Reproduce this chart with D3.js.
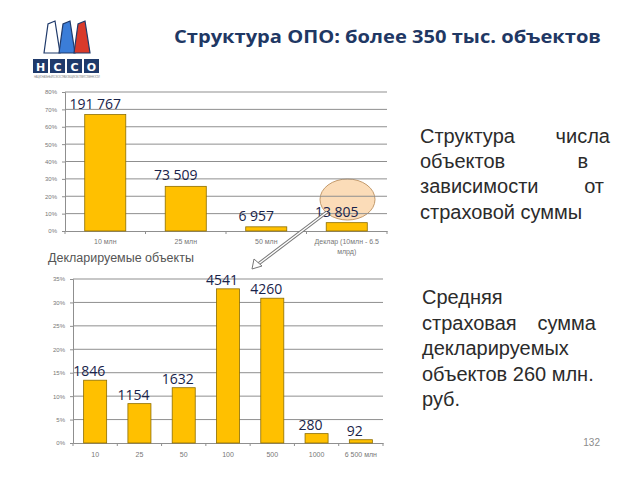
<!DOCTYPE html>
<html>
<head>
<meta charset="utf-8">
<script src="https://cdn.jsdelivr.net/npm/d3@7"></script>
<style>
  body { margin: 0; background: #fff; }
  svg { display: block; }
</style>
</head>
<body>
<div id="slide"></div>
<script>
// top chart: objects by insured sum
const topCats = ["10 млн", "25 млн", "50 млн", "Деклар (10млн - 6.5 млрд)"];
const topShare = [67.0, 25.7, 2.4, 4.8];          // % of objects
const topCounts = ["191 767", "73 509", "6 957", "13 805"];
const topTicks = [0, 10, 20, 30, 40, 50, 60, 70, 80];

// bottom chart: declared objects
const botCats = ["10", "25", "50", "100", "500", "1000", "6 500 млн"];
const botShare = [13.4, 8.4, 11.8, 32.9, 30.9, 2.0, 0.7];
const botCounts = ["1846", "1154", "1632", "4541", "4260", "280", "92"];
const botTicks = [0, 5, 10, 15, 20, 25, 30, 35];

const W = 640, H = 480;
const BAR = "#ffc000", BAR_EDGE = "#8c6d00", LBL = "#18234a";

const svg = d3.select("#slide").append("svg")
  .attr("width", W).attr("height", H);

// highlight ellipse (under the chart, gridlines show through it)
svg.append("ellipse").attr("cx", 347.5).attr("cy", 199.5).attr("rx", 27.5).attr("ry", 20.5)
  .attr("fill", "#fbdcb8")
  .attr("stroke", "#c39a6b").attr("stroke-width", 1);

// title
svg.append("text")
  .attr("x", 174).attr("y", 43)
  .attr("font-family", "Open Sans").attr("font-weight", 700)
  .attr("font-size", 18.5).attr("fill", "#1f3864")
  .attr("textLength", 427).attr("lengthAdjust", "spacingAndGlyphs")
  .text("Структура ОПО: более 350 тыс. объектов");

// logo
const logo = svg.append("g");
const chimneys = [["#ffffff", 44], ["#3b7dd8", 59], ["#d93a2b", 74]];
chimneys.forEach(([c, bx]) => {
  logo.append("path")
    .attr("d", `M${bx},53 L${bx + 4},24 L${bx + 11},21 L${bx + 16},53 Z`)
    .attr("fill", c).attr("stroke", "#1f3a6b").attr("stroke-width", 1.2);
});
const letters = ["Н", "С", "С", "О"];
letters.forEach((l, i) => {
  logo.append("rect").attr("x", 33 + i * 17).attr("y", 59)
    .attr("width", 15).attr("height", 14).attr("fill", "#1f3a6b");
  logo.append("text").attr("x", 40.5 + i * 17).attr("y", 70.5)
    .attr("text-anchor", "middle").attr("font-family", "DejaVu Sans")
    .attr("font-weight", "bold").attr("font-size", 11).attr("fill", "#fff")
    .text(l);
});
logo.append("text").attr("x", 34).attr("y", 78)
  .attr("font-family", "Liberation Sans").attr("font-size", 3).attr("fill", "#999")
  .attr("textLength", 66)
  .text("НАЦИОНАЛЬНЫЙ СОЮЗ СТРАХОВЩИКОВ ОТВЕТСТВЕННОСТИ");

function drawChart(cfg) {
  const g = svg.append("g");
  const x = d3.scaleBand().domain(cfg.cats).range([cfg.x0, cfg.x1]).paddingInner(0).paddingOuter(0);
  const y = d3.scaleLinear().domain([0, cfg.max]).range([cfg.y0, cfg.y1]);

  // gridlines
  g.append("g").selectAll("line").data(cfg.ticks.slice(1)).join("line")
    .attr("x1", cfg.x0).attr("x2", cfg.x1)
    .attr("y1", d => y(d)).attr("y2", d => y(d))
    .attr("stroke", "#8f8f8f").attr("stroke-width", 1);

  // y axis
  const ya = g.append("g").attr("transform", `translate(${cfg.x0},0)`)
    .call(d3.axisLeft(y).tickValues(cfg.ticks).tickSize(3).tickFormat(d => d + "%"));
  ya.select(".domain").attr("stroke", "#8f8f8f");
  ya.selectAll(".tick line").attr("stroke", "#8f8f8f");
  ya.selectAll("text").attr("font-family", "Liberation Sans").attr("font-size", 6)
    .attr("fill", "#777").attr("dx", -2);

  // x axis
  const xa = g.append("g").attr("transform", `translate(0,${cfg.y0})`)
    .call(d3.axisBottom(x).tickSize(0).tickFormat(""));
  xa.select(".domain").attr("stroke", "#8f8f8f");
  g.append("g").selectAll("line").data(d3.range(cfg.cats.length + 1)).join("line")
    .attr("x1", i => cfg.x0 + i * x.step()).attr("x2", i => cfg.x0 + i * x.step())
    .attr("y1", cfg.y0).attr("y2", cfg.y0 + 3).attr("stroke", "#8f8f8f");

  // category labels
  const cl = g.append("g").selectAll("text").data(cfg.cats).join("text")
    .attr("text-anchor", "middle").attr("font-family", "Liberation Sans")
    .attr("font-size", 7).attr("fill", "#777")
    .attr("y", cfg.y0 + cfg.labelDy);
  cl.each(function (d) {
    const lines = cfg.wrap[d] || [d];
    lines.forEach((t, k) => {
      d3.select(this).append("tspan")
        .attr("x", x(d) + x.bandwidth() / 2).attr("dy", k ? 10 : 0).text(t);
    });
  });

  // bars
  const bw = x.bandwidth() * cfg.barFrac;
  g.append("g").selectAll("rect").data(cfg.values).join("rect")
    .attr("x", (d, i) => x(cfg.cats[i]) + (x.bandwidth() - bw) / 2)
    .attr("y", d => y(d))
    .attr("width", bw).attr("height", d => cfg.y0 - y(d))
    .attr("fill", BAR).attr("stroke", BAR_EDGE).attr("stroke-width", 0.8);

  // value labels
  g.append("g").selectAll("text").data(cfg.values).join("text")
    .attr("x", (d, i) => x(cfg.cats[i]) + x.bandwidth() / 2 + cfg.lblDx)
    .attr("y", d => y(d) - cfg.lblDy)
    .attr("text-anchor", "middle").attr("font-family", "Open Sans")
    .attr("font-weight", 500)
    .attr("font-size", 14).attr("fill", LBL)
    .text((d, i) => cfg.labels[i]);
  return { x, y };
}

drawChart({
  cats: topCats, values: topShare, labels: topCounts, ticks: topTicks, max: 80,
  x0: 65, x1: 387, y0: 231, y1: 92, barFrac: 0.51, labelDy: 13,
  lblDx: -10, lblDy: 6,
  wrap: { "Деклар (10млн - 6.5 млрд)": ["Деклар (10млн - 6.5", "млрд)"] }
});

svg.append("text").attr("x", 48).attr("y", 262)
  .attr("font-family", "Liberation Sans").attr("font-size", 12.5).attr("fill", "#555")
  .text("Декларируемые объекты");

drawChart({
  cats: botCats, values: botShare, labels: botCounts, ticks: botTicks, max: 35,
  x0: 73, x1: 383, y0: 443, y1: 279, barFrac: 0.52, labelDy: 14,
  lblDx: -6, lblDy: 4, wrap: {}
});

// arrow from the ellipse down to the second chart
const ax1 = 327, ay1 = 212, ax2 = 257, ay2 = 265;
svg.append("line").attr("x1", ax1).attr("y1", ay1).attr("x2", ax2).attr("y2", ay2)
  .attr("stroke", "#777").attr("stroke-width", 3.4);
svg.append("line").attr("x1", ax1).attr("y1", ay1).attr("x2", ax2).attr("y2", ay2)
  .attr("stroke", "#fff").attr("stroke-width", 1.4);
svg.append("path")
  .attr("d", "M252,269 L254,259 L262,266 Z")
  .attr("fill", "#fff").attr("stroke", "#777").attr("stroke-width", 1);

// side texts
const side = svg.append("g").attr("font-family", "Liberation Sans")
  .attr("font-size", 20).attr("fill", "#2b2b2b");
const block1 = [
  [["Структура", 420, "start"], ["числа", 610, "end"]],
  [["объектов", 420, "start"], ["в", 588, "end"]],
  [["зависимости", 420, "start"], ["от", 604, "end"]],
  [["страховой суммы", 420, "start"]]
];
const b1y = [143, 168, 193, 219];
block1.forEach((line, i) => line.forEach(([t, xx, a]) => {
  side.append("text").attr("x", xx).attr("y", b1y[i]).attr("text-anchor", a).text(t);
}));
const block2 = [
  [["Средняя", 422, "start"]],
  [["страховая", 422, "start"], ["сумма", 596, "end"]],
  [["декларируемых", 422, "start"]],
  [["объектов 260 млн.", 422, "start"]],
  [["руб.", 422, "start"]]
];
const b2y = [304, 330, 355, 381, 406];
block2.forEach((line, i) => line.forEach(([t, xx, a]) => {
  side.append("text").attr("x", xx).attr("y", b2y[i]).attr("text-anchor", a).text(t);
}));

// page number
svg.append("text").attr("x", 600).attr("y", 446).attr("text-anchor", "end")
  .attr("font-family", "Liberation Sans").attr("font-size", 10).attr("fill", "#8c8c8c")
  .text("132");
</script>
</body>
</html>
